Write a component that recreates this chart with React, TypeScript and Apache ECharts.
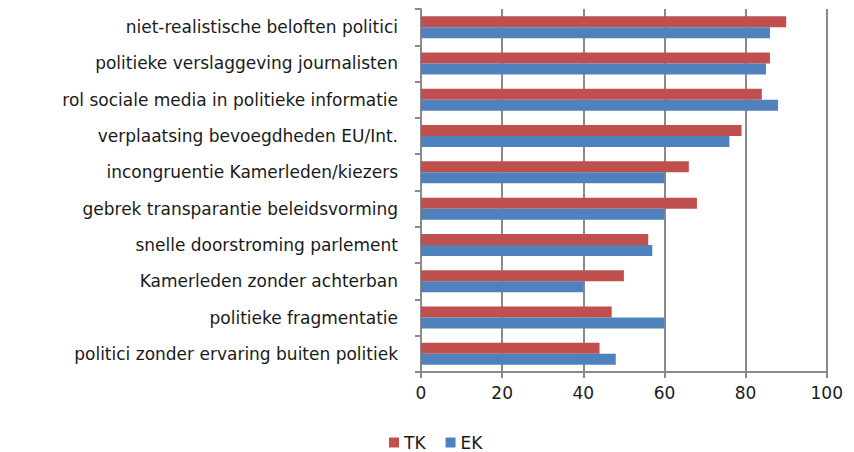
import React, { useEffect, useRef } from "react";
import * as echarts from "echarts";

const categories = [
  "niet-realistische beloften politici",
  "politieke verslaggeving journalisten",
  "rol sociale media in politieke informatie",
  "verplaatsing bevoegdheden EU/Int.",
  "incongruentie Kamerleden/kiezers",
  "gebrek transparantie beleidsvorming",
  "snelle doorstroming parlement",
  "Kamerleden zonder achterban",
  "politieke fragmentatie",
  "politici zonder ervaring buiten politiek",
];
const tkValues = [90, 86, 84, 79, 66, 68, 56, 50, 47, 44];
const ekValues = [86, 85, 88, 76, 60, 60, 57, 40, 60, 48];
const xTicks = [0, 20, 40, 60, 80, 100];

export default function App() {
  const ref = useRef<HTMLDivElement>(null);
  useEffect(() => {
    const chart = echarts.init(ref.current!, null, { renderer: "svg" });
    const font = "'DejaVu Sans', sans-serif";
    chart.setOption({
      animation: false,
      textStyle: { fontFamily: font },
      legend: {
        data: ["TK", "EK"],
        left: 376,
        top: 421,
        itemWidth: 10,
        itemHeight: 10,
        itemGap: 20,
        icon: "rect",
        textStyle: { fontSize: 17, color: "#1a1a1a", fontFamily: font },
      },
      grid: { left: 413, right: 12, top: 1, bottom: 80, containLabel: false },
      xAxis: {
        type: "value",
        min: xTicks[0],
        max: xTicks[xTicks.length - 1],
        interval: 20,
        axisLine: { show: true, lineStyle: { color: "#8a8a8a", width: 2 } },
        axisTick: { show: true, length: 6, lineStyle: { color: "#8a8a8a", width: 2 } },
        splitLine: { show: true, lineStyle: { color: "#8a8a8a", width: 2 } },
        axisLabel: { fontSize: 17, color: "#1a1a1a", margin: 12, fontFamily: font },
      },
      yAxis: {
        type: "category",
        data: categories,
        inverse: true,
        axisLine: { show: true, lineStyle: { color: "#8a8a8a", width: 2 } },
        axisTick: { show: true, length: 6, lineStyle: { color: "#8a8a8a", width: 2 } },
        axisLabel: { fontSize: 17, color: "#1a1a1a", margin: 23, fontFamily: font },
      },
      series: [
        {
          name: "TK",
          type: "bar",
          data: tkValues,
          barWidth: 11,
          barGap: "0%",
          itemStyle: { color: "#C0504D" },
        },
        {
          name: "EK",
          type: "bar",
          data: ekValues,
          barWidth: 11,
          barGap: "0%",
          itemStyle: { color: "#4F81BD" },
        },
      ],
    });
    return () => chart.dispose();
  }, []);
  return <div ref={ref} style={{ width: 838, height: 444 }} />;
}
